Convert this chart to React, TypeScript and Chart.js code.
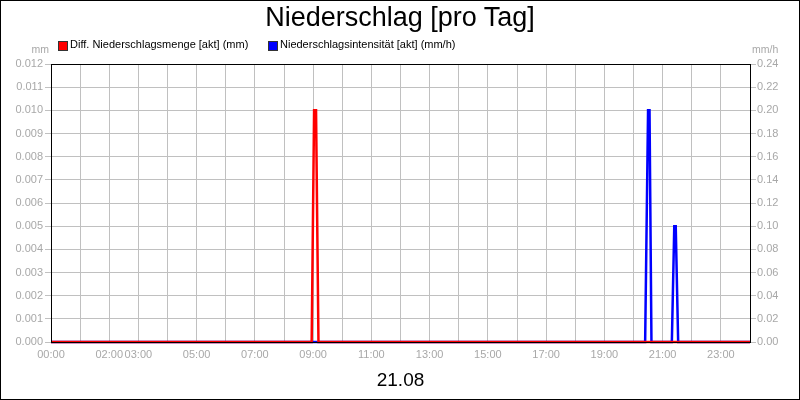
import { useEffect, useRef } from 'react';
import { Chart, registerables } from 'chart.js';

Chart.register(...registerables);

// Zeitpunkte (hh:mm) und Werte der beiden Reihen
const mengeTimes = ['00:00', '08:57', '09:02', '09:06', '09:11', '24:00'];
const mengeValues = [0, 0, 0.01, 0.01, 0, 0];

const intensTimes = ['00:00', '20:24', '20:30', '20:33', '20:37', '21:19', '21:24', '21:27', '21:32', '24:00'];
const intensValues = [0, 0, 0.2, 0.2, 0, 0, 0.1, 0.1, 0, 0];

// beschriftete Stunden auf der x-Achse
const hourLabels = [0, 2, 3, 5, 7, 9, 11, 13, 15, 17, 19, 21, 23];

const FONT = '"Liberation Sans", Arial, sans-serif';
const GRID = '#c0c0c0';
const TICK = '#a8a8a8';

const toHours = (t: string) => {
  const [h, m] = t.split(':').map(Number);
  return h + m / 60;
};

const pad = (n: number) => String(n).padStart(2, '0');

const frame = {
  id: 'frame',
  afterDraw(chart: Chart) {
    const { ctx, chartArea: a } = chart;
    ctx.save();
    ctx.strokeStyle = '#000';
    ctx.lineWidth = 1;
    ctx.strokeRect(Math.round(a.left) + 0.5, Math.round(a.top) + 0.5, Math.round(a.right - a.left), Math.round(a.bottom - a.top));
    ctx.restore();
  },
};

export default function App() {
  const canvasRef = useRef<HTMLCanvasElement>(null);
  const chartRef = useRef<Chart | null>(null);

  useEffect(() => {
    document.body.style.margin = '0';
    if (!canvasRef.current) return;
    if (chartRef.current) chartRef.current.destroy();

    chartRef.current = new Chart(canvasRef.current, {
      type: 'line',
      data: {
        datasets: [
          {
            label: 'Diff. Niederschlagsmenge [akt] (mm)',
            data: mengeTimes.map((t, i) => ({ x: toHours(t), y: mengeValues[i] })),
            borderColor: '#ff0000',
            borderWidth: 2.5,
            pointRadius: 0,
            tension: 0,
            clip: false,
            yAxisID: 'y',
          },
          {
            label: 'Niederschlagsintensität [akt] (mm/h)',
            data: intensTimes.map((t, i) => ({ x: toHours(t), y: intensValues[i] })),
            borderColor: '#0000ff',
            borderWidth: 2.5,
            pointRadius: 0,
            tension: 0,
            clip: false,
            yAxisID: 'y1',
          },
        ],
      },
      options: {
        animation: false,
        responsive: true,
        maintainAspectRatio: false,
        layout: { padding: { top: 64, left: 0, right: 0, bottom: 0 } },
        plugins: { legend: { display: false }, tooltip: { enabled: false } },
        scales: {
          x: {
            type: 'linear',
            min: 0,
            max: 24,
            afterFit: (s: any) => { s.height = 58; },
            border: { color: '#000', width: 1 },
            grid: { color: GRID, drawTicks: false },
            ticks: {
              stepSize: 1,
              autoSkip: false,
              maxRotation: 0,
              padding: 6,
              color: TICK,
              font: { family: FONT, size: 11 },
              callback: (v: any) => (hourLabels.includes(Number(v)) ? pad(Number(v)) + ':00' : ''),
            },
            title: {
              display: true,
              text: '21.08',
              color: '#000',
              font: { family: FONT, size: 19 },
              padding: { top: 0, bottom: 8 },
            },
          },
          y: {
            position: 'left',
            min: 0,
            max: 0.012,
            afterFit: (s: any) => { s.width = 51; },
            border: { color: '#000', width: 1 },
            grid: { color: GRID, tickLength: 6 },
            ticks: {
              stepSize: 0.001,
              padding: 2,
              color: TICK,
              font: { family: FONT, size: 11 },
              callback: (v: any) => Number(v).toFixed(3),
            },
          },
          y1: {
            position: 'right',
            min: 0,
            max: 0.24,
            afterFit: (s: any) => { s.width = 50; },
            border: { color: '#000', width: 1 },
            grid: { color: GRID, tickLength: 6, drawOnChartArea: false },
            ticks: {
              stepSize: 0.02,
              padding: 1,
              color: TICK,
              font: { family: FONT, size: 11 },
              callback: (v: any) => Number(v).toFixed(2),
            },
          },
        },
      },
      plugins: [frame],
    });

    return () => {
      chartRef.current?.destroy();
      chartRef.current = null;
    };
  }, []);

  const text = { position: 'absolute' as const, fontFamily: FONT, lineHeight: 1, whiteSpace: 'nowrap' as const };
  const box = (c: string, left: number) => ({
    position: 'absolute' as const,
    top: 41,
    left,
    width: 8,
    height: 8,
    background: c,
    border: '1px solid #333',
  });

  return (
    <div style={{ position: 'relative', width: 800, height: 400, background: '#fff' }}>
      <canvas ref={canvasRef} />
      <div style={{ ...text, top: 4, left: 0, width: 800, textAlign: 'center', fontSize: 27, color: '#000' }}>
        Niederschlag [pro Tag]
      </div>
      <div style={box('#ff0000', 58)} />
      <div style={{ ...text, top: 39, left: 70, fontSize: 11, color: '#000' }}>Diff. Niederschlagsmenge [akt] (mm)</div>
      <div style={box('#0000ff', 268)} />
      <div style={{ ...text, top: 39, left: 280, fontSize: 11, color: '#000' }}>Niederschlagsintensität [akt] (mm/h)</div>
      <div style={{ ...text, top: 44, right: 751, fontSize: 10.5, color: TICK }}>mm</div>
      <div style={{ ...text, top: 44, left: 752, fontSize: 10.5, color: TICK }}>mm/h</div>
      <div style={{ position: 'absolute', inset: 0, border: '1px solid #000', pointerEvents: 'none' }} />
    </div>
  );
}
